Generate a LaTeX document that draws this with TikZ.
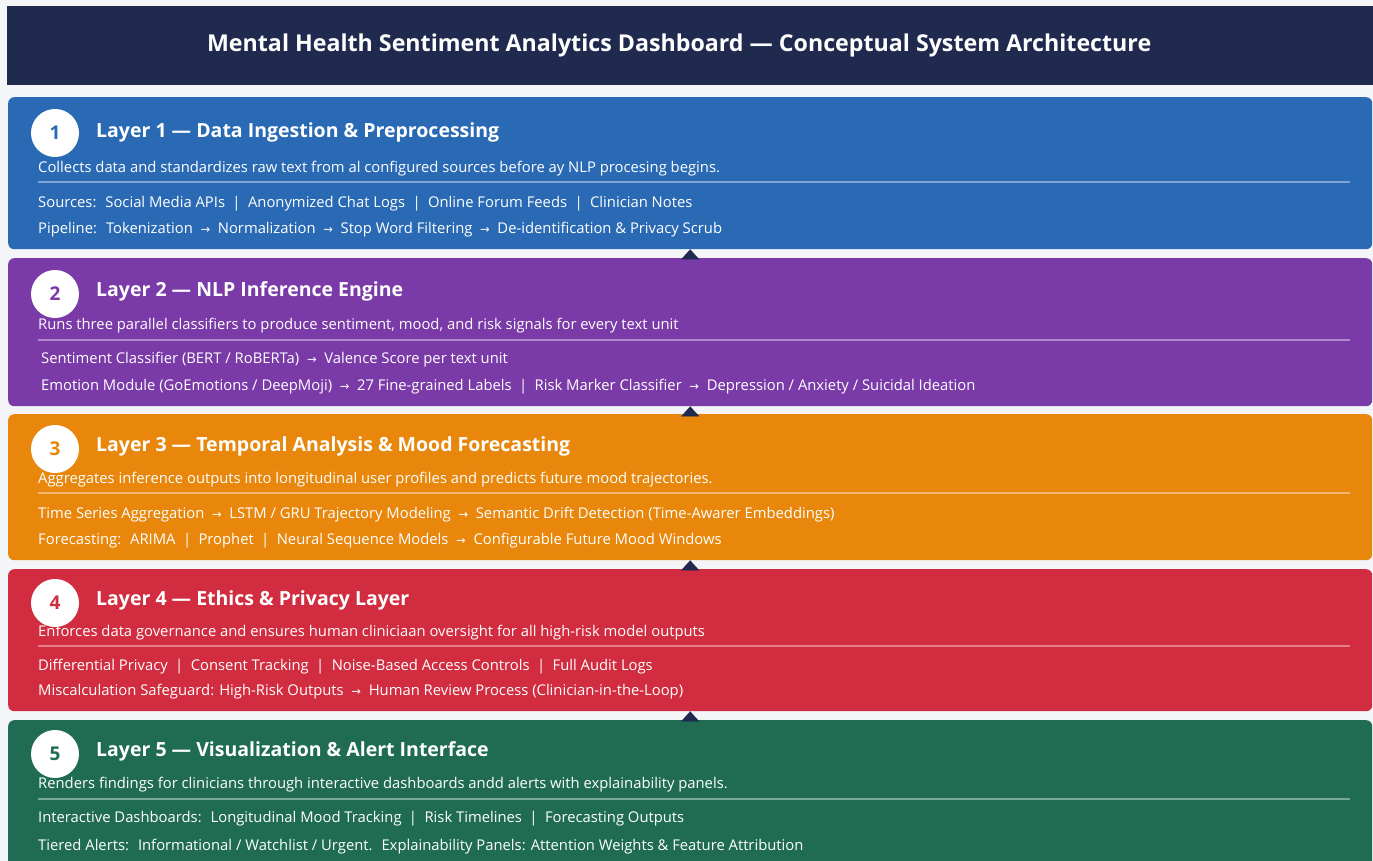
\documentclass[tikz,border=0pt]{standalone}
\usepackage{fontspec}
\setmainfont{Open Sans}
\newfontfamily\arrowfont{DejaVu Sans}
\usetikzlibrary{arrows.meta}

\definecolor{navy}{HTML}{1F2A4E}
\definecolor{layerblue}{HTML}{2A6AB4}
\definecolor{layerpurple}{HTML}{7A3AA8}
\definecolor{layerorange}{HTML}{E8870B}
\definecolor{layerred}{HTML}{D22C40}
\definecolor{layergreen}{HTML}{1F6C53}
\definecolor{pagebg}{HTML}{F3F5F8}

\newcommand{\rarrow}{{\arrowfont\fontsize{11.5}{11.5}\selectfont →}}
\newcommand{\vsep}{\enspace|\enspace}

\begin{document}
\begin{tikzpicture}[x=1pt, y=-1pt,
      header/.style={rectangle, fill=navy, anchor=north west, inner sep=0pt,
                     minimum width=1366pt, minimum height=79pt},
      layer/.style={rectangle, rounded corners=6pt, anchor=north west,
                    inner sep=0pt, minimum width=1364pt},
      badge/.style={circle, fill=white, minimum size=48pt, inner sep=0pt,
                    font=\fontsize{19}{19}\selectfont\bfseries},
      ltitle/.style={anchor=west, inner sep=0pt, text=white,
                     text height=1.5ex, text depth=.25ex,
                     font=\fontsize{19.5}{21}\selectfont\bfseries},
      desc/.style={anchor=west, inner sep=0pt, text=white,
                   text height=1.5ex, text depth=.25ex,
                   font=\fontsize{14.8}{16}\selectfont},
      sep/.style={draw=white, draw opacity=0.4, line width=1.2pt},
      tip/.style={-{Triangle[length=10pt, width=18pt]}, draw=navy, fill=navy,
                  line width=0.1pt},
    ]

    \clip (0,0) rectangle (1373,861);
    \fill[pagebg] (0,0) rectangle (1373,861);

    % Header bar
    \node[header] (head) at (7,6) {};
    \node[text=white, font=\fontsize{23.2}{25}\selectfont\bfseries] (htitle)
      at ([xshift=-11pt]head.center) {Mental Health Sentiment Analytics Dashboard — Conceptual System Architecture};

    % Layer 1: ingestion
    \node[layer, fill=layerblue, minimum height=152pt] (l1) at (8,97) {};
    \node[badge, text=layerblue] (b1) at (55,133) {1};
    \node[ltitle] (t1) at (96,134) {Layer 1 — Data Ingestion \& Preprocessing};
    \node[desc] (d1) at (38,169) {Collects data and standardizes raw text from al configured sources before ay NLP procesing begins.};
    \draw[sep] (38,182) -- (1350,182);
    \node[desc] (s1) at (38,204) {Sources:~ Social Media APIs\vsep Anonymized Chat Logs\vsep Online Forum Feeds\vsep Clinician Notes};
    \node[desc] (p1) at (38,230) {Pipeline:~ Tokenization~ \rarrow~ Normalization~ \rarrow~ Stop Word Filtering~ \rarrow~ De-identification \& Privacy Scrub};

    % Layer 2: inference
    \node[layer, fill=layerpurple, minimum height=148pt] (l2) at (8,258) {};
    \node[badge, text=layerpurple] (b2) at (55,294) {2};
    \node[ltitle] (t2) at (96,293) {Layer 2 — NLP Inference Engine};
    \node[desc] (d2) at (38,326) {Runs three parallel classifiers to produce sentiment, mood, and risk signals for every text unit};
    \draw[sep] (38,340) -- (1350,340);
    \node[desc] (s2) at (41,360) {Sentiment Classifier (BERT / RoBERTa)~ \rarrow~ Valence Score per text unit};
    \node[desc] (p2) at (41,387) {Emotion Module (GoEmotions / DeepMoji)~ \rarrow~ 27 Fine-grained Labels\vsep Risk Marker Classifier~ \rarrow~ Depression / Anxiety / Suicidal Ideation};

    % Layer 3: temporal analysis
    \node[layer, fill=layerorange, minimum height=146pt] (l3) at (8,414) {};
    \node[badge, text=layerorange] (b3) at (55,449) {3};
    \node[ltitle] (t3) at (96,448) {Layer 3 — Temporal Analysis \& Mood Forecasting};
    \node[desc] (d3) at (38,480) {Aggregates inference outputs into longitudinal user profiles and predicts future mood trajectories.};
    \draw[sep] (38,493) -- (1350,493);
    \node[desc] (s3) at (38,515) {Time Series Aggregation~ \rarrow~ LSTM / GRU Trajectory Modeling~ \rarrow~ Semantic Drift Detection (Time-Awarer Embeddings)};
    \node[desc] (p3) at (38,541) {Forecasting:~ ARIMA\vsep Prophet\vsep Neural Sequence Models~ \rarrow~ Configurable Future Mood Windows};

    % Layer 4: ethics
    \node[layer, fill=layerred, minimum height=142pt] (l4) at (8,569) {};
    \node[badge, text=layerred] (b4) at (55,603) {4};
    \node[ltitle] (t4) at (96,602) {Layer 4 — Ethics \& Privacy Layer};
    \node[desc] (d4) at (38,633) {Enforces data governance and ensures human cliniciaan oversight for all high-risk model outputs};
    \draw[sep] (38,646) -- (1350,646);
    \node[desc] (s4) at (38,667) {Differential Privacy\vsep Consent Tracking\vsep Noise-Based Access Controls\vsep Full Audit Logs};
    \node[desc] (p4) at (38,692) {Miscalculation Safeguard: High-Risk Outputs~ \rarrow~ Human Review Process (Clinician-in-the-Loop)};

    % Layer 5: visualization
    \node[layer, fill=layergreen, minimum height=150pt] (l5) at (8,720) {};
    \node[badge, text=layergreen] (b5) at (55,754) {5};
    \node[ltitle] (t5) at (96,753) {Layer 5 — Visualization \& Alert Interface};
    \node[desc] (d5) at (38,785) {Renders findings for clinicians through interactive dashboards andd alerts with explainability panels.};
    \draw[sep] (38,799) -- (1350,799);
    \node[desc] (s5) at (38,819) {Interactive Dashboards:~ Longitudinal Mood Tracking\vsep Risk Timelines\vsep Forecasting Outputs};
    \node[desc] (p5) at (38,847) {Tiered Alerts:~ Informational / Watchlist / Urgent.~ Explainability Panels: Attention Weights \& Feature Attribution};

    % Flow markers between layers
    \draw[tip] (l2.north) -- (l1.south);
    \draw[tip] (l3.north) -- (l2.south);
    \draw[tip] (l4.north) -- (l3.south);
    \draw[tip] (l5.north) -- (l4.south);

    \end{tikzpicture}
\end{document}
